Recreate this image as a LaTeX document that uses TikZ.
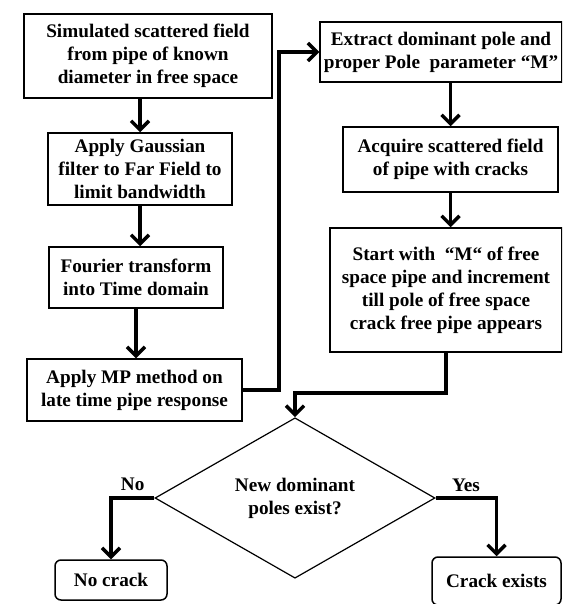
\documentclass[tikz,border=0pt]{standalone}
\usepackage{fontspec}
\setmainfont{Liberation Serif}
\usetikzlibrary{arrows.meta,shapes.geometric}

\begin{document}
\begin{tikzpicture}[x=1pt,y=-1pt,
  font=\bfseries\fontsize{19.2}{23}\selectfont,
  box/.style={draw,line width=1.5pt,inner sep=0pt,align=center},
  endbox/.style={box,rounded corners=6pt},
  link/.style={line width=3.5pt},
  arr/.style={link,-{Straight Barb[length=9pt,width=18pt]}}]
\path[use as bounding box,clip] (0,0) rectangle (562,604);

\node[box,minimum width=248pt,minimum height=84pt] (sim) at (148,56) {Simulated scattered field\\from pipe of known\\diameter in free space};
\node[box,minimum width=184pt,minimum height=72pt] (gauss) at (140,169) {Apply Gaussian\\filter to Far Field to\\limit bandwidth};
\node[box,minimum width=174pt,minimum height=61pt] (fourier) at (136,277.5) {Fourier transform\\into Time domain};
\node[box,minimum width=215pt,minimum height=62pt] (mp) at (134.5,390) {Apply MP method on\\late time pipe response};

\node[box,minimum width=242pt,minimum height=60pt] (extract) at (441,52) {Extract dominant pole and\\proper Pole~ parameter “M”};
\node[box,minimum width=215pt,minimum height=65pt] (acquire) at (450.5,159.5) {Acquire scattered field\\of pipe with cracks};
\node[box,minimum width=232pt,minimum height=124pt] (start) at (446,290) {Start with~ “M“ of free\\space pipe and increment\\till pole of free space\\crack free pipe appears};

\node[draw,diamond,line width=1.2pt,inner sep=0pt,minimum width=280pt,minimum height=130pt,align=center] (dec) at (295,498) {New dominant\\poles exist?};
\node[endbox,minimum width=112pt,minimum height=40pt] (nocrack) at (111,580) {No crack};
\node[endbox,minimum width=129pt,minimum height=48pt] (crack) at (496.5,581) {Crack exists};

\draw[arr] (gauss.north |- sim.south) -- (gauss.north);
\draw[arr] (gauss.south) -- (gauss.south |- fourier.north);
\draw[arr] (fourier.south) -- (fourier.south |- mp.north);
\draw[arr] (mp.east) -- ++(36,0) |- (extract.west);
\draw[arr] (extract.south -| acquire.north) -- (acquire.north);
\draw[arr] (acquire.south) -- (acquire.south |- start.north);
\draw[arr] (start.south) -- ++(0,40) -| (dec.north);
\draw[arr] (dec.west) -| node[pos=.25,above=2pt] {No} (nocrack.north);
\draw[arr] (dec.east) -| node[pos=.25,above=1pt] {Yes} (crack.north);
\end{tikzpicture}
\end{document}
